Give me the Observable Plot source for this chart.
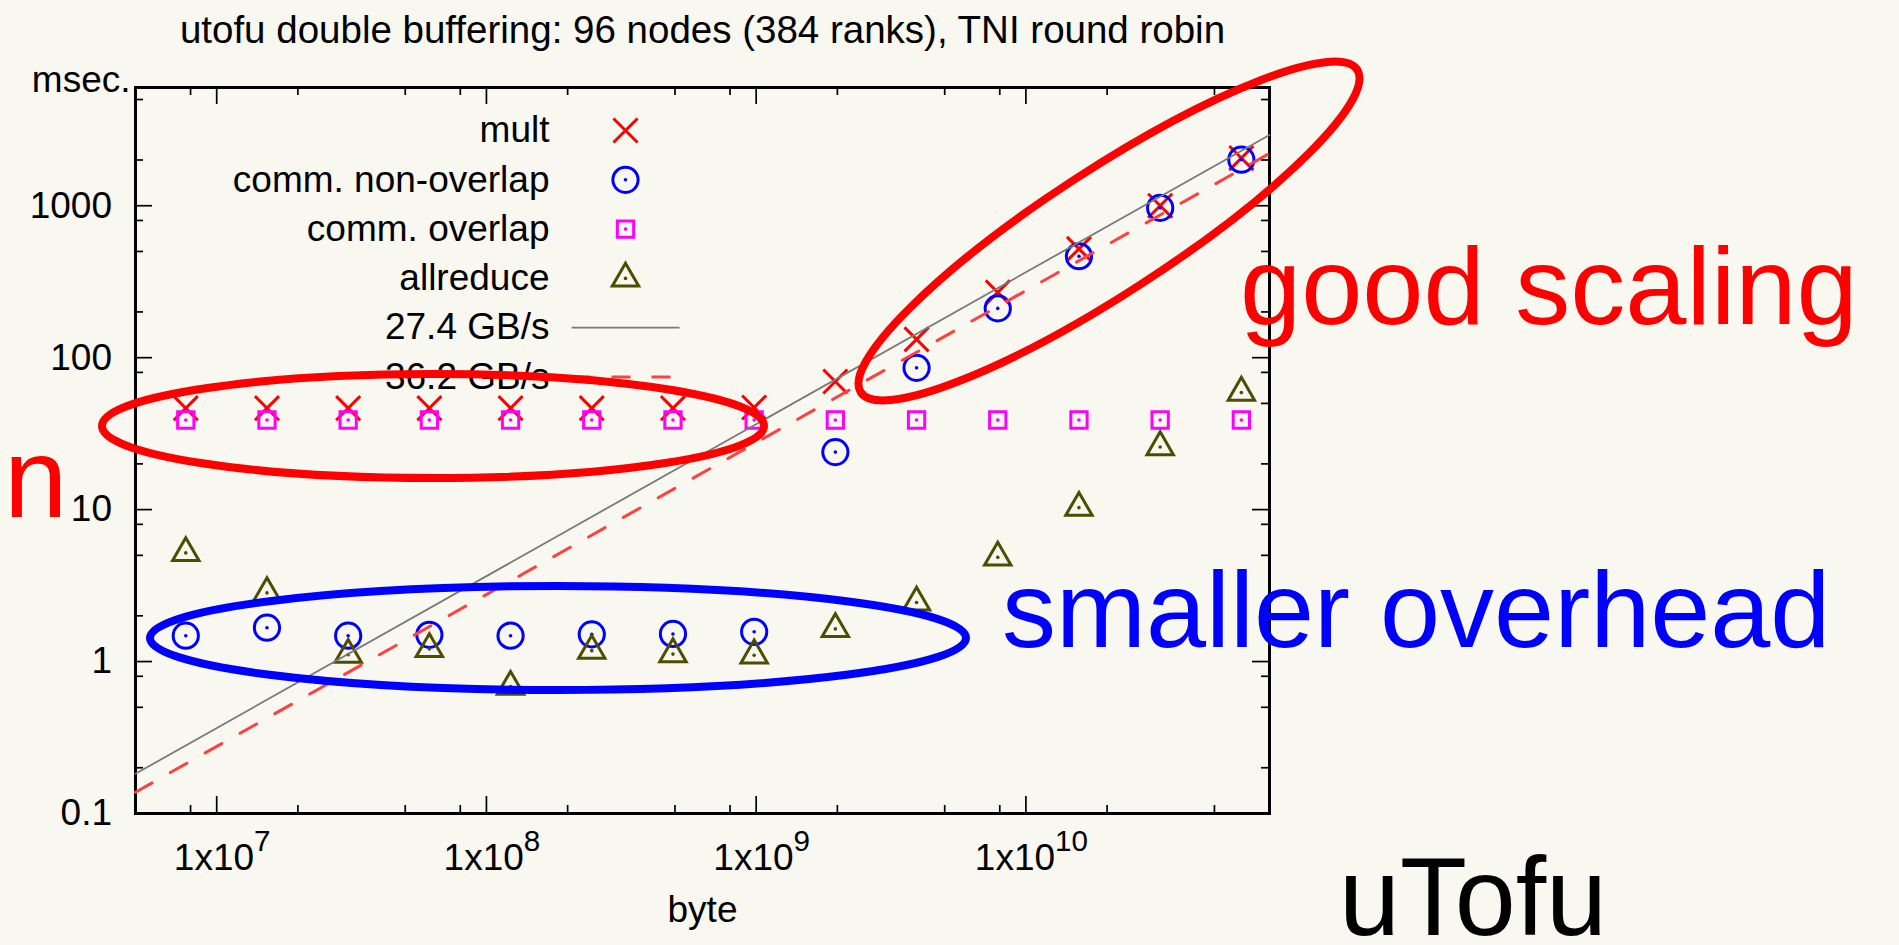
<!DOCTYPE html>
<html><head><meta charset="utf-8">
<script src="https://cdn.jsdelivr.net/npm/d3@7"></script>
<script src="https://cdn.jsdelivr.net/npm/@observablehq/plot@0.6"></script>
<style>
html,body{margin:0;padding:0;background:#f8f7f0;}
#chart svg{display:block;}
</style></head><body><div id="chart"></div>
<script>
// ---- data ----
const bytes = [7.68e6, 1.536e7, 3.072e7, 6.144e7, 1.2288e8, 2.4576e8, 4.9152e8, 9.8304e8, 1.96608e9, 3.93216e9, 7.86432e9, 1.572864e10, 3.145728e10, 6.291456e10];
const mult = [46.5, 46.5, 46.5, 46.5, 46.5, 46.5, 46.5, 47, 69.7, 132, 269, 520, 1000, 2060];
const commNonOverlap = [1.48, 1.67, 1.48, 1.50, 1.48, 1.51, 1.52, 1.57, 23.9, 85.7, 211, 465, 968, 2010];
const commOverlap = [38.9, 38.9, 38.9, 38.9, 38.9, 38.9, 38.9, 38.9, 38.9, 38.9, 38.9, 38.9, 38.9, 38.9];
const allreduce = [5.19, 2.83, 1.11, 1.21, 0.684, 1.18, 1.12, 1.10, 1.64, 2.45, 4.85, 10.3, 25.8, 58.9];
const bandwidthGBs = [27.4, 36.2];
const seriesNames = ["mult", "comm. non-overlap", "comm. overlap", "allreduce", "27.4 GB/s", "36.2 GB/s"];
const xDomain = [5e6, 8e10];
const yDomain = [0.1, 6000];
const xTicksMajor = [1e7, 1e8, 1e9, 1e10];
const xTickLabels = ["1x10^7", "1x10^8", "1x10^9", "1x10^10"];
const xTicksMinor = [8e6, 2e7, 5e7, 8e7, 2e8, 5e8, 8e8, 2e9, 5e9, 8e9, 2e10, 5e10];
const yTicksMajor = [0.1, 1, 10, 100, 1000];
const yTickLabels = ["0.1", "1", "10", "100", "1000"];
const yTicksMinor = [0.2, 0.5, 0.8, 2, 5, 8, 20, 50, 80, 200, 500, 800, 2000, 5000];
const titleText = "utofu double buffering: 96 nodes (384 ranks), TNI round robin";

// ---- layout / style ----
const W = 1899, H = 945, mL = 135, mR = 630, mT = 87, mB = 132;
const FW = W - mL - mR, FH = H - mT - mB;
const C = {mult: "#ff0000", non: "#0000ff", ov: "#ff00ff", ar: "#4d4d00", fit1: "#7a7a7a", fit2: "#ff4040"};
const font = "Liberation Sans, Arial, Helvetica, sans-serif";
const S = {
  mult: {symbol: "times", r: 11, strokeWidth: 3, fill: "none"},
  non: {symbol: "circle", r: 12.6, strokeWidth: 3, fill: "none"},
  ov: {symbol: "square", r: 9.2, strokeWidth: 3, fill: "none"},
  ar: {symbol: "triangle", r: 9.8, strokeWidth: 3, fill: "none", strokeLinejoin: "miter"}
};

const rows = bytes.map((b, i) => ({b, mult: mult[i], non: commNonOverlap[i], ov: commOverlap[i], ar: allreduce[i]}));
const fits = bandwidthGBs.map(bw => xDomain.map(x => ({x, y: x / (bw * 1e6)})));

const lineSym = {draw(ctx) { ctx.moveTo(-54, 0); ctx.lineTo(54, 0); }};
const legendBase = 141.7, legendStep = 49.3, legendTextX = 549, legendSymX = 625;
const legendSpec = [
  [{...S.mult, stroke: C.mult}],
  [{...S.non, stroke: C.non}, {r: 1.8, fill: C.non}],
  [{...S.ov, stroke: C.ov}, {r: 1.8, fill: C.ov}],
  [{...S.ar, stroke: C.ar}, {r: 1.8, fill: C.ar}],
  [{symbol: lineSym, r: 1, stroke: C.fit1, strokeWidth: 1.8, fill: "none"}],
  [{symbol: lineSym, r: 1, stroke: C.fit2, strokeWidth: 3, fill: "none", strokeDasharray: "19 21"}]
];
const legendMarks = [];
seriesNames.forEach((name, i) => {
  const base = legendBase + i * legendStep;
  legendMarks.push(Plot.text([name], {frameAnchor: "top-left", dx: legendTextX - mL, dy: base - mT, textAnchor: "end", lineAnchor: "bottom", fontSize: 37}));
  legendSpec[i].forEach(s => legendMarks.push(Plot.dot([0], {frameAnchor: "top-left", dx: legendSymX - mL, dy: base - 11.7 - mT, ...s})));
});

const chart = Plot.plot({
  width: W, height: H,
  marginLeft: mL, marginRight: mR, marginTop: mT, marginBottom: mB,
  style: {background: "#f8f7f0", fontFamily: font, fontSize: "37px", color: "#000"},
  x: {type: "log", domain: xDomain, axis: null},
  y: {type: "log", domain: yDomain, axis: null},
  marks: [
    // ticks (inward, mirrored)
    Plot.tickY(yTicksMajor, {y: d => d, insetRight: FW - 17, stroke: "#000", strokeWidth: 1.7}),
    Plot.tickY(yTicksMajor, {y: d => d, insetLeft: FW - 17, stroke: "#000", strokeWidth: 1.7}),
    Plot.tickY(yTicksMinor, {y: d => d, insetRight: FW - 8, stroke: "#000", strokeWidth: 1.7}),
    Plot.tickY(yTicksMinor, {y: d => d, insetLeft: FW - 8, stroke: "#000", strokeWidth: 1.7}),
    Plot.tickX(xTicksMajor, {x: d => d, insetTop: FH - 17, stroke: "#000", strokeWidth: 1.7}),
    Plot.tickX(xTicksMajor, {x: d => d, insetBottom: FH - 17, stroke: "#000", strokeWidth: 1.7}),
    Plot.tickX(xTicksMinor, {x: d => d, insetTop: FH - 8, stroke: "#000", strokeWidth: 1.7}),
    Plot.tickX(xTicksMinor, {x: d => d, insetBottom: FH - 8, stroke: "#000", strokeWidth: 1.7}),
    Plot.frame({stroke: "#000", strokeWidth: 3}),
    // tick labels
    Plot.text(yTicksMajor, {y: d => d, frameAnchor: "left", dx: -23.5, textAnchor: "end", text: (d, i) => yTickLabels[i], fontSize: 37}),
    Plot.text(xTicksMajor, {x: d => d, frameAnchor: "bottom", dy: 56, dx: 5.5, lineAnchor: "bottom", text: (d, i) => xTickLabels[i], fontSize: 37}),
    Plot.text(["byte"], {frameAnchor: "bottom", dy: 108, lineAnchor: "bottom", fontSize: 37}),
    Plot.text(["msec."], {frameAnchor: "top-left", dx: -5, dy: 4, textAnchor: "end", lineAnchor: "bottom", fontSize: 37}),
    Plot.text([titleText], {frameAnchor: "top", dy: -45, lineAnchor: "bottom", fontSize: 38.5}),
    // data
    Plot.dot(rows, {x: "b", y: "mult", ...S.mult, stroke: C.mult}),
    Plot.dot(rows, {x: "b", y: "non", ...S.non, stroke: C.non}),
    Plot.dot(rows, {x: "b", y: "non", r: 1.8, fill: C.non}),
    Plot.dot(rows, {x: "b", y: "ov", ...S.ov, stroke: C.ov}),
    Plot.dot(rows, {x: "b", y: "ov", r: 1.8, fill: C.ov}),
    Plot.dot(rows, {x: "b", y: "ar", ...S.ar, stroke: C.ar}),
    Plot.dot(rows, {x: "b", y: "ar", r: 1.8, fill: C.ar}),
    Plot.line(fits[0], {x: "x", y: "y", stroke: C.fit1, strokeWidth: 1.8}),
    Plot.line(fits[1], {x: "x", y: "y", stroke: C.fit2, strokeWidth: 3, strokeDasharray: "19 21"}),
    ...legendMarks
  ]
});
document.getElementById("chart").appendChild(chart);

// superscript exponents on x tick labels
d3.select(chart).selectAll("text").filter(function() { return this.textContent.includes("^"); }).each(function() {
  const t = d3.select(this);
  const [base, exp] = t.text().split("^");
  t.text(null);
  t.append("tspan").text(base);
  t.append("tspan").attr("font-size", "0.8em").attr("dy", "-0.64em").text(exp);
});

// hand-drawn annotations (ellipses and callout words)
const ann = d3.select(chart).append("g").attr("class", "annotations").attr("text-anchor", "start");
const ellipses = [
  {cx: 433, cy: 426, rx: 331, ry: 52, rot: 0, color: "#ff0000"},
  {cx: 1109, cy: 231, rx: 296, ry: 62, rot: -33, color: "#ff0000"},
  {cx: 558, cy: 638, rx: 408, ry: 52, rot: 0, color: "#0000ff"}
];
ellipses.forEach(e => ann.append("ellipse")
  .attr("cx", 0).attr("cy", 0).attr("rx", e.rx).attr("ry", e.ry)
  .attr("transform", `translate(${e.cx},${e.cy}) rotate(${e.rot})`)
  .attr("fill", "none").attr("stroke", e.color).attr("stroke-width", 8));
const callouts = [
  {text: "good scaling", x: 1240, y: 324, size: 110, color: "#ff0000"},
  {text: "smaller overhead", x: 1002, y: 647, size: 108, color: "#0000ff"},
  {text: "n", x: 4, y: 517, size: 114, color: "#ff0000"},
  {text: "uTofu", x: 1339, y: 935, size: 112, color: "#000000", len: 268}
];
callouts.forEach(c => {
  const t = ann.append("text").attr("x", c.x).attr("y", c.y).attr("text-anchor", "start")
    .attr("font-family", font).attr("font-size", c.size).attr("fill", c.color).text(c.text);
  if (c.len) t.attr("textLength", c.len).attr("lengthAdjust", "spacingAndGlyphs");
});
</script></body></html>
